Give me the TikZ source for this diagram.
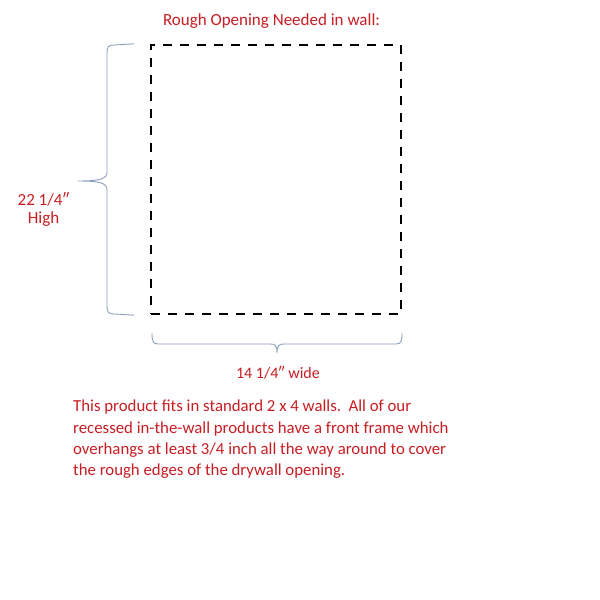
\documentclass[tikz,border=0pt]{standalone}
\usepackage{fontspec}
\setmainfont{Carlito}
\definecolor{txtred}{RGB}{200,30,35}
\definecolor{bracecol}{RGB}{140,160,190}
\tikzset{
  lbl/.style={text=txtred, font=\fontsize{17}{20}\selectfont, inner sep=0pt, anchor=base},
  paraline/.style={text=txtred, font=\fontsize{16.8}{20}\selectfont, inner sep=0pt, anchor=base west},
  bracepath/.style={draw=bracecol, line width=0.9pt},
  openbox/.style={draw=black, line width=2.4pt, dash pattern=on 9pt off 8pt, minimum width=250pt, minimum height=269pt, inner sep=0pt}
}
\begin{document}
\begin{tikzpicture}[x=1pt,y=-1pt]
\useasboundingbox (0,0) rectangle (600,600);
\fill[white] (0,0) rectangle (600,600);
\node[openbox] (box) at (276,179.5) {};
\node[lbl] (title) at (271.5,25) {Rough Opening Needed in wall:};
\node[lbl] (high1) at (43.5,205) {22 1/4\char"2033};
\node[lbl] (high2) at (43.5,223) {High};
\node[lbl, font=\fontsize{16}{20}\selectfont] (wide) at (278,378) {14 1/4\char"2033{} wide};
\node[paraline] (p1) at (73,411.5) {This product fits in standard 2 x 4 walls.\ \ All of our};
\node[paraline] (p2) at (73,433) {recessed in-the-wall products have a front frame which};
\node[paraline] (p3) at (73,454.5) {overhangs at least 3/4 inch all the way around to cover};
\node[paraline] (p4) at (73,475.5) {the rough edges of the drywall opening.};
% left brace
\coordinate (lt) at ([xshift=-16pt]box.north west);
\coordinate (lb) at ([xshift=-16pt]box.south west);
\coordinate (ltip) at (78,181);
\draw[bracepath] (lt) -- (115,45) .. controls (108,45) and (107,47) .. (107,53)
  -- (107,172) .. controls (107,179) and (100,181) .. (ltip)
  .. controls (100,181) and (107,183) .. (107,190)
  -- (107,306) .. controls (107,312) and (108,314) .. (115,314) -- (lb);
% bottom brace
\coordinate (bl) at (152,333);
\coordinate (br) at (402,333);
\coordinate (btip) at (277,353);
\draw[bracepath] (bl) .. controls (152,341) and (153,344) .. (158,344)
  -- (270,344) .. controls (275,344) and (277,345) .. (btip)
  .. controls (277,345) and (279,344) .. (284,344)
  -- (396,344) .. controls (401,344) and (402,341) .. (br);
\end{tikzpicture}
\end{document}
